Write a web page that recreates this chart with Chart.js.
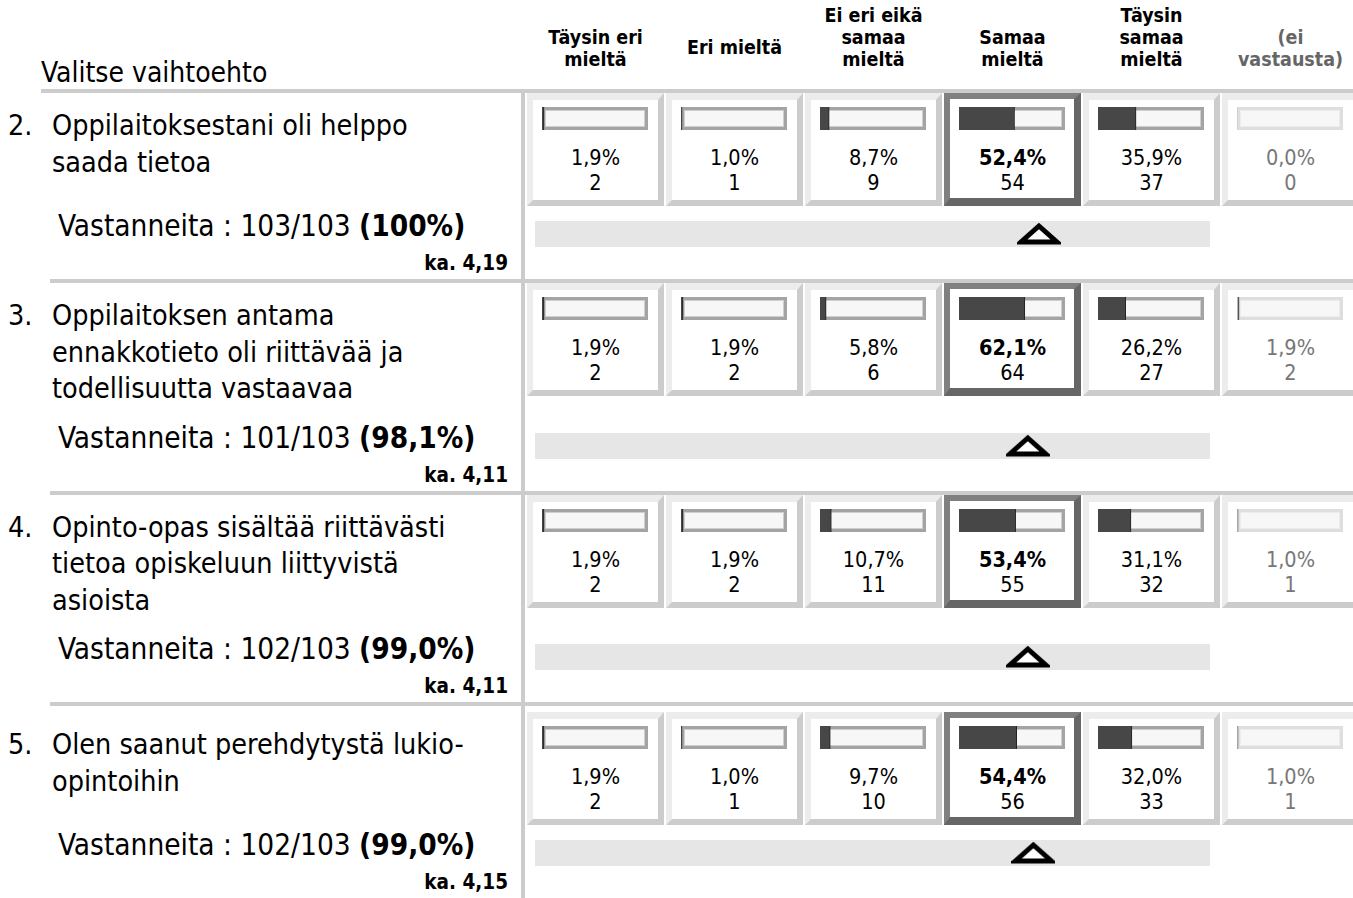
<!DOCTYPE html>
<html lang="fi">
<head>
<meta charset="utf-8">
<title>Kyselyn tulokset</title>
<script src="https://cdn.jsdelivr.net/npm/chart.js@4.4.1/dist/chart.umd.min.js"></script>
<style>
  html, body { margin: 0; padding: 0; background: #fff; }
  body { width: 1353px; height: 898px; overflow: hidden; position: relative;
         font-family: Tahoma, "DejaVu Sans Condensed", "DejaVu Sans", sans-serif; color: #000; }
  .abs { position: absolute; white-space: nowrap; }
  .line { position: absolute; background: #cccccc; }
  .head { font-weight: bold; font-size: 19.5px; line-height: 22px; text-align: center; width: 139px; }
  .head.muted { color: #666; }
  .question { font-size: 28.5px; line-height: 36.5px; }
  .cell { position: absolute; box-sizing: border-box; width: 137px; height: 113px;
          border-style: solid; border-width: 7px 6px 6px 6px;
          border-color: #ececec #cccccc #cccccc #ececec; background: #fff; }
  .cell.best { border-width: 6px 7px 8px 6px; border-color: #808080 #666 #666 #808080; }
  .track { position: absolute; box-sizing: border-box; width: 106px; height: 23px;
           border: 3px solid #a4a4a4; box-shadow: inset 0 0 0 1px #cfcfcf; background: #f7f7f7; }
  .track.muted { border-color: #dedede; box-shadow: inset 0 0 0 1px #ececec; }
  .track canvas { position: absolute; left: -3px; top: -3px; }
  .num { position: absolute; width: 137px; text-align: center; font-size: 21.5px; line-height: 25px; }
  .num.muted { color: #777; }
  .num b { font-weight: bold; }
</style>
</head>
<body>
<div id="page"></div>
<script>
// survey data
const answerLabels = [
  ['Täysin eri', 'mieltä'],
  ['Eri mieltä'],
  ['Ei eri eikä', 'samaa', 'mieltä'],
  ['Samaa', 'mieltä'],
  ['Täysin', 'samaa', 'mieltä'],
  ['(ei', 'vastausta)']
];
const questionNumbers = ['2.', '3.', '4.', '5.'];
const questionLines = [
  ['Oppilaitoksestani oli helppo', 'saada tietoa'],
  ['Oppilaitoksen antama', 'ennakkotieto oli riittävää ja', 'todellisuutta vastaavaa'],
  ['Opinto-opas sisältää riittävästi', 'tietoa opiskeluun liittyvistä', 'asioista'],
  ['Olen saanut perehdytystä lukio-', 'opintoihin']
];
const percentages = [
  [1.9, 1.0, 8.7, 52.4, 35.9, 0.0],
  [1.9, 1.9, 5.8, 62.1, 26.2, 1.9],
  [1.9, 1.9, 10.7, 53.4, 31.1, 1.0],
  [1.9, 1.0, 9.7, 54.4, 32.0, 1.0]
];
const counts = [
  [2, 1, 9, 54, 37, 0],
  [2, 2, 6, 64, 27, 2],
  [2, 2, 11, 55, 32, 1],
  [2, 1, 10, 56, 33, 1]
];
const respondents = [103, 101, 102, 102];
const totalRespondents = 103;
const means = [4.19, 4.11, 4.11, 4.15];

// layout
const COL_X = 527, COL_PITCH = 139, CELL_W = 137;
const SEP_X = 521, BAND_X = 535, BAND_W = 675;
const LAST_ROW_GAP = 6;
const page = document.getElementById('page');

function el(cls, css, html) {
  const d = document.createElement('div');
  d.className = cls;
  Object.assign(d.style, css);
  if (html !== undefined) d.innerHTML = html;
  page.appendChild(d);
  return d;
}
const fi = (v, d) => v.toFixed(d).replace('.', ',');

// header
el('abs', { left: '41px', top: '56px', fontSize: '28px', lineHeight: '34px' }, 'Valitse vaihtoehto');
answerLabels.forEach((lines, i) => {
  const lastCenter = lines.length === 1 ? 48 : 60;
  const top = lastCenter - 11 - (lines.length - 1) * 22;
  el('abs head' + (i === 5 ? ' muted' : ''), { left: (COL_X + i * COL_PITCH - 1) + 'px', top: top + 'px' },
     lines.join('<br>'));
});
el('line', { left: '41px', top: '89px', width: (1353 - 41) + 'px', height: '4px' });

// flat triangle used as point style for the mean marker
const tri = document.createElement('canvas');
tri.width = 44; tri.height = 24;
(function () {
  const c = tri.getContext('2d');
  c.beginPath();
  c.moveTo(4, 20); c.lineTo(40, 20); c.lineTo(22, 4); c.closePath();
  c.fillStyle = '#fff'; c.fill();
  c.lineWidth = 5; c.lineJoin = 'miter'; c.strokeStyle = '#000'; c.stroke();
})();

const bandBg = {
  id: 'bandBg',
  beforeDraw(chart) {
    const a = chart.chartArea, ctx = chart.ctx;
    ctx.save();
    ctx.fillStyle = '#e6e6e6';
    ctx.fillRect(a.left, a.top, a.right - a.left, a.bottom - a.top);
    ctx.restore();
  }
};

function miniBar(parent, value, color) {
  const cv = document.createElement('canvas');
  cv.width = 106; cv.height = 23;
  cv.style.width = '106px'; cv.style.height = '23px';
  parent.appendChild(cv);
  new Chart(cv.getContext('2d'), {
    type: 'bar',
    data: { labels: [''], datasets: [{ data: [value], backgroundColor: color,
      borderColor: '#222', borderWidth: { right: value > 0 ? 1 : 0 }, borderSkipped: false,
      barPercentage: 1, categoryPercentage: 1 }] },
    options: {
      indexAxis: 'y', responsive: false, animation: false,
      layout: { padding: 0, autoPadding: false },
      plugins: { legend: { display: false }, tooltip: { enabled: false } },
      scales: { x: { display: false, min: 0, max: 100 }, y: { display: false } }
    }
  });
}

let y = 93;
questionLines.forEach((lines, r) => {
  if (r === questionLines.length - 1) y += LAST_ROW_GAP;
  const h1 = Math.max(112, lines.length * 36.5 + 24);
  const y0 = y, y1 = y0 + h1;

  el('abs question', { left: '8px', top: (y0 + 15) + 'px' }, questionNumbers[r]);
  el('abs question', { left: '52px', top: (y0 + 15) + 'px' }, lines.join('<br>'));

  const share = respondents[r] / totalRespondents * 100;
  const shareTxt = share === 100 ? '100%' : fi(share, 1) + '%';
  el('abs', { left: '58px', top: (y1 + 4) + 'px', fontSize: '29.5px', lineHeight: '34px' },
     'Vastanneita : ' + respondents[r] + '/' + totalRespondents + ' <b>(' + shareTxt + ')</b>');
  el('abs', { right: (1353 - 508) + 'px', top: (y1 + 46) + 'px', fontSize: '20.5px', lineHeight: '24px', fontWeight: 'bold' },
     'ka. ' + fi(means[r], 2));

  const vals = percentages[r];
  const best = vals.slice(0, 5).indexOf(Math.max(...vals.slice(0, 5)));
  vals.forEach((v, i) => {
    const x = COL_X + i * COL_PITCH;
    el('cell' + (i === best ? ' best' : ''), { left: x + 'px', top: y0 + 'px' });
    const track = el('track' + (i === 5 ? ' muted' : ''), { left: (x + 15) + 'px', top: (y0 + 14) + 'px' });
    miniBar(track, v, i === 5 ? '#b5b5b5' : '#474747');
    const pct = i === best ? '<b>' + fi(v, 1) + '%</b>' : fi(v, 1) + '%';
    el('num' + (i === 5 ? ' muted' : ''), { left: x + 'px', top: (y0 + 52) + 'px' }, pct + '<br>' + counts[r][i]);
  });

  // mean marker on a 1..5 scale aligned with the answer columns
  const c1 = COL_X + CELL_W / 2, step = COL_PITCH;
  const xMin = 1 - (c1 - BAND_X) / step, xMax = 1 + (BAND_X + BAND_W - c1) / step;
  const cv = document.createElement('canvas');
  cv.width = BAND_W; cv.height = 26;
  Object.assign(cv.style, { position: 'absolute', left: BAND_X + 'px', top: (y1 + 16) + 'px', width: BAND_W + 'px', height: '26px' });
  page.appendChild(cv);
  new Chart(cv.getContext('2d'), {
    type: 'scatter',
    data: { datasets: [{ data: [{ x: means[r], y: 0.5 }], pointStyle: tri, clip: false }] },
    options: {
      responsive: false, animation: false, layout: { padding: 0, autoPadding: false },
      plugins: { legend: { display: false }, tooltip: { enabled: false } },
      scales: { x: { display: false, min: xMin, max: xMax }, y: { display: false, min: 0, max: 1 } }
    },
    plugins: [bandBg]
  });

  const yEnd = y1 + 74;
  el('line', { left: '50px', top: yEnd + 'px', width: (1353 - 50) + 'px', height: '4px' });
  y = yEnd + 4;
});

el('line', { left: SEP_X + 'px', top: '89px', width: '4px', height: (898 - 89) + 'px' });
</script>
</body>
</html>
